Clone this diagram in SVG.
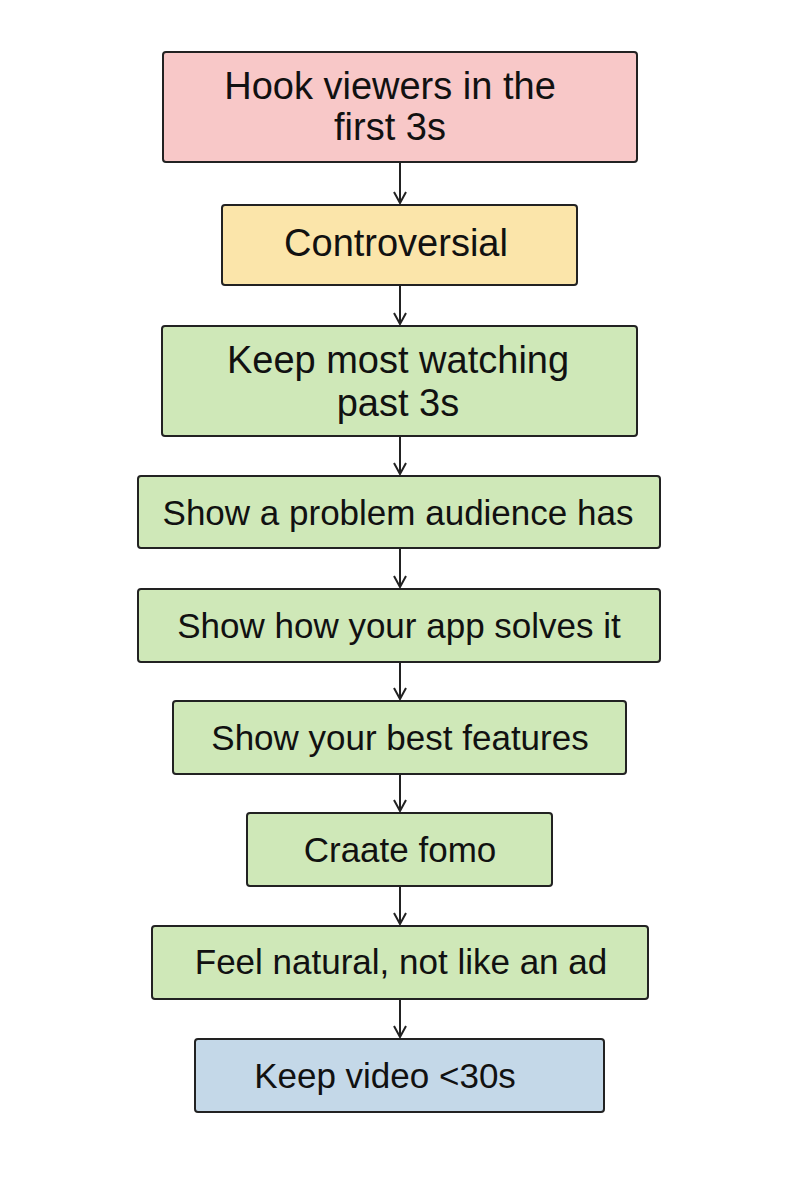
<svg xmlns="http://www.w3.org/2000/svg" width="800" height="1200" viewBox="0 0 800 1200">
<style>
rect{stroke:#222;stroke-width:2}
text{font-family:"Liberation Sans",Arial,sans-serif;font-size:35px;fill:#111;text-anchor:middle;dominant-baseline:central}
.l{font-size:38px}
.p{fill:#f8c8c8}.y{fill:#fbe5aa}.g{fill:#cfe8b8}.b{fill:#c4d8e8}
line{stroke:#222;stroke-width:2}
</style>
<defs><marker id="a" markerWidth="14" markerHeight="14" refX="12" refY="7" orient="auto" markerUnits="userSpaceOnUse"><path d="M1,1 L12,7 L1,13" fill="none" stroke="#222" stroke-width="2"/></marker></defs>
<rect width="800" height="1200" fill="#fff" style="stroke:none"/>
<g id="connectors">
<line x1="400" y1="163" x2="400" y2="203" marker-end="url(#a)"/>
<line x1="400" y1="286" x2="400" y2="324" marker-end="url(#a)"/>
<line x1="400" y1="437" x2="400" y2="474" marker-end="url(#a)"/>
<line x1="400" y1="549" x2="400" y2="587" marker-end="url(#a)"/>
<line x1="400" y1="663" x2="400" y2="699" marker-end="url(#a)"/>
<line x1="400" y1="775" x2="400" y2="811" marker-end="url(#a)"/>
<line x1="400" y1="887" x2="400" y2="924" marker-end="url(#a)"/>
<line x1="400" y1="1000" x2="400" y2="1037" marker-end="url(#a)"/>
</g>
<g id="n1"><rect class="p" x="163" y="52" width="474" height="110" rx="3"/><text class="l" x="390" y="86">Hook viewers in the</text><text class="l" x="390" y="127">first 3s</text></g>
<g id="n2"><rect class="y" x="222" y="205" width="355" height="80" rx="3"/><text class="l" x="396" y="243">Controversial</text></g>
<g id="n3"><rect class="g" x="162" y="326" width="475" height="110" rx="3"/><text class="l" x="398" y="360">Keep most watching</text><text class="l" x="398" y="403">past 3s</text></g>
<g id="n4"><rect class="g" x="138" y="476" width="522" height="72" rx="3"/><text x="398" y="512">Show a problem audience has</text></g>
<g id="n5"><rect class="g" x="138" y="589" width="522" height="73" rx="3"/><text x="399" y="625">Show how your app solves it</text></g>
<g id="n6"><rect class="g" x="173" y="701" width="453" height="73" rx="3"/><text x="400" y="737">Show your best features</text></g>
<g id="n7"><rect class="g" x="247" y="813" width="305" height="73" rx="3"/><text x="400" y="849">Craate fomo</text></g>
<g id="n8"><rect class="g" x="152" y="926" width="496" height="73" rx="3"/><text x="401" y="961">Feel natural, not like an ad</text></g>
<g id="n9"><rect class="b" x="195" y="1039" width="409" height="73" rx="3"/><text x="385" y="1075">Keep video &lt;30s</text></g>
</svg>
